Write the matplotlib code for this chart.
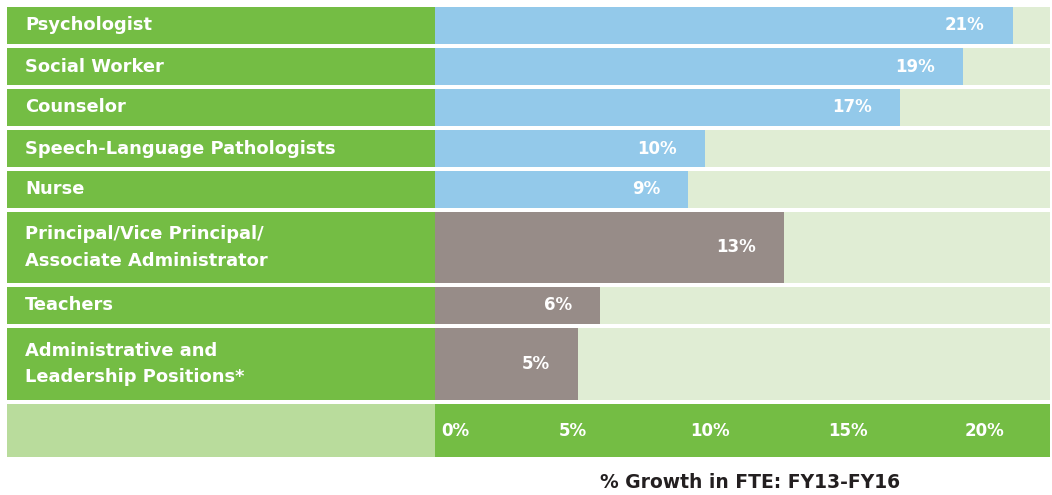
import matplotlib.pyplot as plt

plt.rcParams['font.family'] = ['DejaVu Sans']

categories = ["Psychologist", "Social Worker", "Counselor", "Speech-Language Pathologists", "Nurse",
              "Principal/Vice Principal/\nAssociate Administrator", "Teachers",
              "Administrative and\nLeadership Positions*"]
growth = [21.0, 19.2, 16.9, 9.8, 9.2, 12.7, 6.0, 5.2]
growth_labels = ["21%", "19%", "17%", "10%", "9%", "13%", "6%", "5%"]
bar_colors = ["#93C9EA"] * 5 + ["#978C88"] * 3
tick_values = [0, 5, 10, 15, 20]
tick_labels = ["0%", "5%", "10%", "15%", "20%"]
xlabel = "% Growth in FTE: FY13-FY16"

green = "#74BD44"
light = "#E0EDD4"
axis_left = "#B9DC9C"

# layout in pixels
row_heights = [37, 37, 37, 37, 37, 71, 37, 72]
gap = 4
axis_row = 53
px_per_pct = 27.5

fig = plt.figure(figsize=(10.52, 4.95), dpi=100)
ax = fig.add_axes([7 / 1052, 37 / 495, 1043 / 1052, 451 / 495])
xmin = -428 / px_per_pct
xmax = 615 / px_per_pct
ax.set_xlim(xmin, xmax)
ax.set_ylim(451, 0)
ax.axis('off')

top = 0
for cat, val, lab, col, h in zip(categories, growth, growth_labels, bar_colors, row_heights):
    ax.barh(top, -xmin, left=xmin, height=h, align='edge', color=green)
    ax.barh(top, xmax, left=0, height=h, align='edge', color=light)
    ax.barh(top, val, left=0, height=h, align='edge', color=col)
    ax.annotate(cat, xy=(xmin, top + h / 2), xytext=(18, 0), textcoords='offset pixels',
                va='center', ha='left', color='white', fontsize=12.9, fontweight='bold',
                linespacing=1.6)
    ax.annotate(lab, xy=(val, top + h / 2), xytext=(-28, 0), textcoords='offset pixels',
                va='center', ha='right', color='white', fontsize=12, fontweight='bold')
    top += h + gap

# axis row
ax.barh(top, -xmin, left=xmin, height=axis_row, align='edge', color=axis_left)
ax.barh(top, xmax, left=0, height=axis_row, align='edge', color=green)
for v, lab in zip(tick_values, tick_labels):
    if v == 0:
        ax.annotate(lab, xy=(v, top + axis_row / 2), xytext=(6, 0), textcoords='offset pixels',
                    va='center', ha='left', color='white', fontsize=12, fontweight='bold')
    else:
        ax.text(v, top + axis_row / 2, lab, va='center', ha='center', color='white',
                fontsize=12, fontweight='bold')

fig.text(750 / 1052, 1 - 482 / 495, xlabel, ha='center', va='center', color='#231F20',
         fontsize=13.5, fontweight='bold')

fig.savefig("out.png", dpi=100)
